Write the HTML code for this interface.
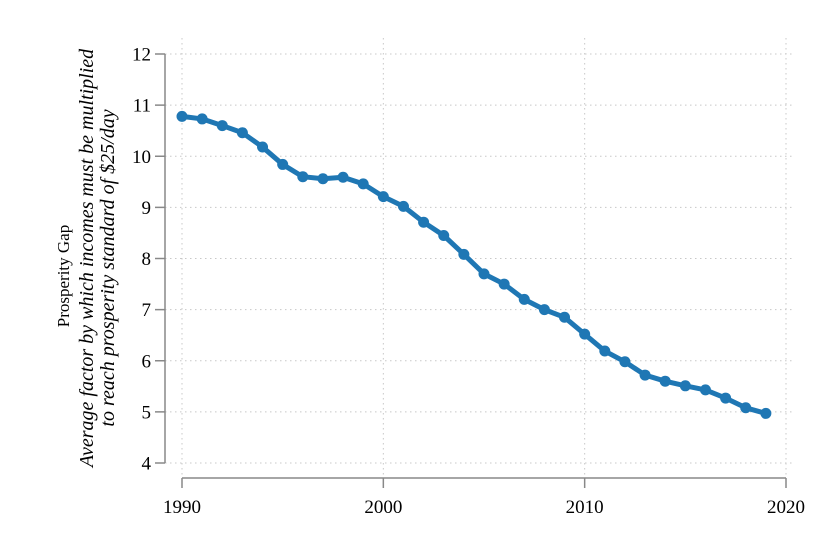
<!DOCTYPE html>
<html><head><meta charset="utf-8"><style>body{margin:0;background:#fff}svg{display:block}</style></head>
<body>
<svg id="chart" width="840" height="560" xmlns="http://www.w3.org/2000/svg" font-family="Liberation Serif, serif">
<rect width="840" height="560" fill="#fff"/>
<g id="grid"></g><g id="axes"></g><g id="series"></g>
<text transform="translate(69,276) rotate(-90)" text-anchor="middle" font-size="17">Prosperity Gap</text>
<text transform="translate(93,258) rotate(-90)" text-anchor="middle" font-size="20" font-style="italic">Average factor by which incomes must be multiplied</text>
<text transform="translate(114,268) rotate(-90)" text-anchor="middle" font-size="20" font-style="italic">to reach prosperity standard of $25/day</text>
</svg>
<script>
const years=[1990,1991,1992,1993,1994,1995,1996,1997,1998,1999,2000,2001,2002,2003,2004,2005,2006,2007,2008,2009,2010,2011,2012,2013,2014,2015,2016,2017,2018,2019];
const gap=[10.78,10.73,10.6,10.46,10.18,9.84,9.6,9.56,9.59,9.46,9.21,9.02,8.71,8.45,8.08,7.70,7.50,7.20,7.00,6.85,6.52,6.19,5.98,5.72,5.60,5.51,5.43,5.27,5.08,4.97];
const yTicks=[4,5,6,7,8,9,10,11,12];
const xTicks=[1990,2000,2010,2020];
const NS='http://www.w3.org/2000/svg';
const X=v=>182+(v-1990)*(786-182)/30;
const Y=v=>463-(v-4)*(463-54)/8;
function mk(p,t,a){const e=document.createElementNS(NS,t);for(const k in a)e.setAttribute(k,a[k]);p.appendChild(e);return e;}
const grid=document.getElementById('grid'),axes=document.getElementById('axes'),ser=document.getElementById('series');
yTicks.forEach(v=>{
 const g=mk(grid,'line',{x1:165,x2:792,y1:Y(v),y2:Y(v),stroke:'#c8c8c8','stroke-dasharray':'1.5,3.5','stroke-width':1});
 
 
 const t=mk(axes,'line',{x1:155,x2:165,y1:Y(v),y2:Y(v),stroke:'#888','stroke-width':1.5});
 
 
 const l=mk(axes,'text',{x:151,y:Y(v)+6.5,'text-anchor':'end','font-size':19});l.textContent=v;
 
 
});
xTicks.forEach(v=>{
 const g=mk(grid,'line',{x1:X(v),x2:X(v),y1:38,y2:478,stroke:'#c8c8c8','stroke-dasharray':'1.5,3.5','stroke-width':1});
 
 
 const t=mk(axes,'line',{x1:X(v),x2:X(v),y1:478,y2:488,stroke:'#888','stroke-width':1.5});
 
 
 const l=mk(axes,'text',{x:X(v),y:513,'text-anchor':'middle','font-size':19});l.textContent=v;
 
 
});
const ya=mk(axes,'line',{x1:165,x2:165,y1:Y(12),y2:Y(4),stroke:'#888','stroke-width':1.5});


const xa=mk(axes,'line',{x1:X(1990),x2:X(2020),y1:478,y2:478,stroke:'#888','stroke-width':1.5});


const line=mk(ser,'polyline',{points:years.map((y,i)=>X(y)+','+Y(gap[i])).join(' '),fill:'none',stroke:'#1f77b4','stroke-width':5,'stroke-linejoin':'round'});


years.forEach((y,i)=>{
 const c=mk(ser,'circle',{cx:X(y),cy:Y(gap[i]),r:5.5,fill:'#1f77b4'});
 
 
});
</script>
</body></html>
